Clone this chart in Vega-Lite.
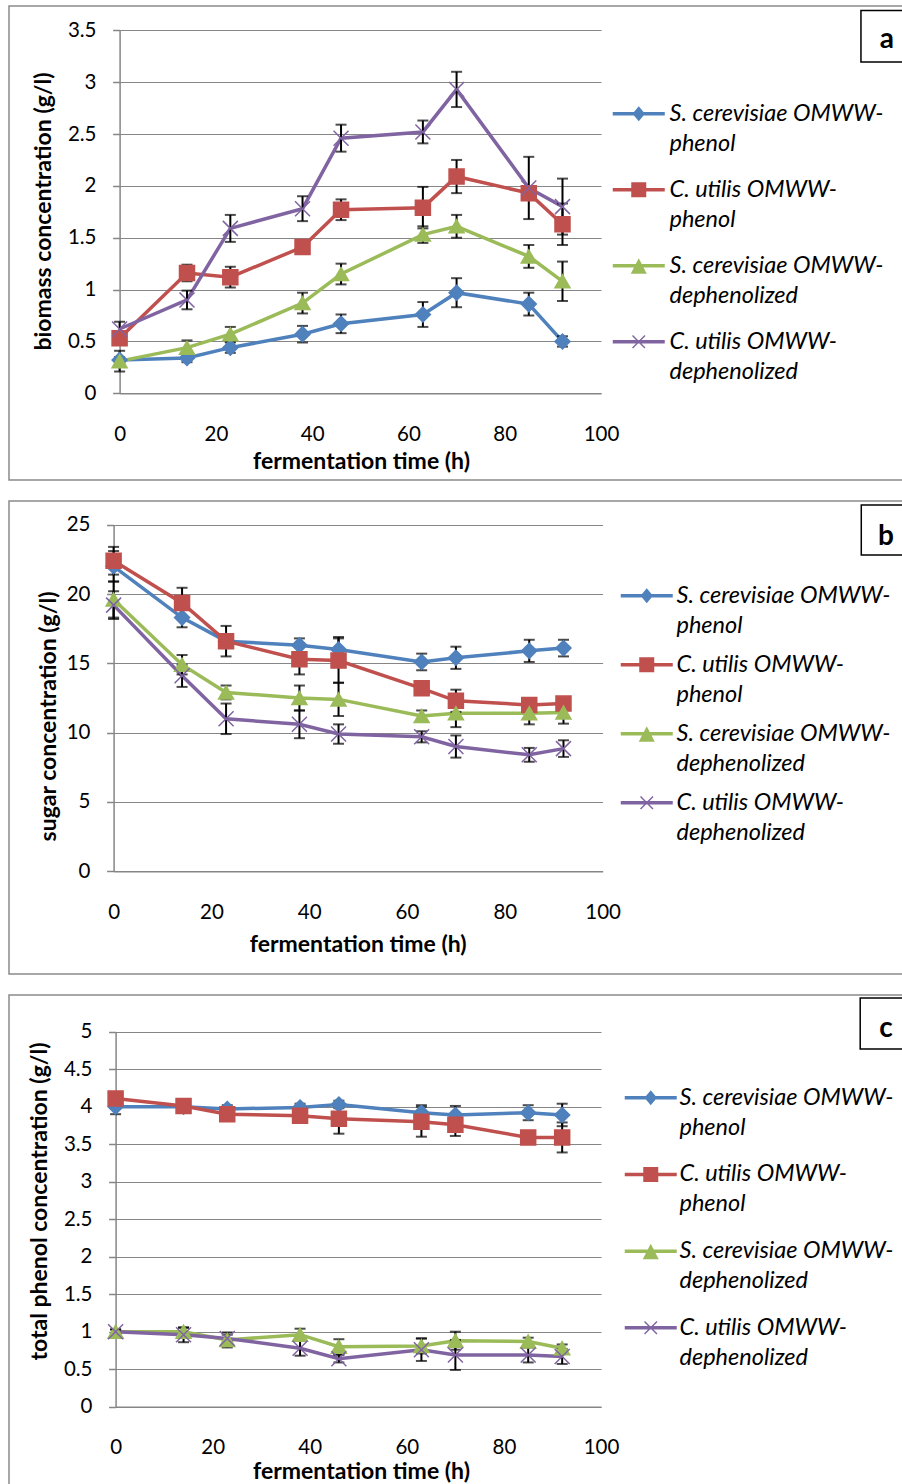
{
 "$schema": "https://vega.github.io/schema/vega-lite/v6.json",
 "background": "white",
 "padding": {"left": 8, "top": 5, "right": 0, "bottom": 0},
 "spacing": 19,
 "datasets": {
  "biomass": [
   {"t":0,"s":"S. cerevisiae OMWW-phenol","v":0.32,"e":0.03},
   {"t":14,"s":"S. cerevisiae OMWW-phenol","v":0.34,"e":0.04},
   {"t":23,"s":"S. cerevisiae OMWW-phenol","v":0.44,"e":0.05},
   {"t":38,"s":"S. cerevisiae OMWW-phenol","v":0.57,"e":0.08},
   {"t":46,"s":"S. cerevisiae OMWW-phenol","v":0.67,"e":0.09},
   {"t":63,"s":"S. cerevisiae OMWW-phenol","v":0.76,"e":0.12},
   {"t":70,"s":"S. cerevisiae OMWW-phenol","v":0.97,"e":0.14},
   {"t":85,"s":"S. cerevisiae OMWW-phenol","v":0.86,"e":0.11},
   {"t":92,"s":"S. cerevisiae OMWW-phenol","v":0.50,"e":0.05},
   {"t":0,"s":"C. utilis OMWW-phenol","v":0.53,"e":0.03},
   {"t":14,"s":"C. utilis OMWW-phenol","v":1.16,"e":0.08},
   {"t":23,"s":"C. utilis OMWW-phenol","v":1.12,"e":0.10},
   {"t":38,"s":"C. utilis OMWW-phenol","v":1.41,"e":0.04},
   {"t":46,"s":"C. utilis OMWW-phenol","v":1.77,"e":0.10},
   {"t":63,"s":"C. utilis OMWW-phenol","v":1.79,"e":0.20},
   {"t":70,"s":"C. utilis OMWW-phenol","v":2.09,"e":0.16},
   {"t":85,"s":"C. utilis OMWW-phenol","v":1.93,"e":0.05},
   {"t":92,"s":"C. utilis OMWW-phenol","v":1.63,"e":0.20},
   {"t":0,"s":"S. cerevisiae OMWW-dephenolized","v":0.31,"e":0.10},
   {"t":14,"s":"S. cerevisiae OMWW-dephenolized","v":0.44,"e":0.07},
   {"t":23,"s":"S. cerevisiae OMWW-dephenolized","v":0.57,"e":0.07},
   {"t":38,"s":"S. cerevisiae OMWW-dephenolized","v":0.87,"e":0.10},
   {"t":46,"s":"S. cerevisiae OMWW-dephenolized","v":1.15,"e":0.10},
   {"t":63,"s":"S. cerevisiae OMWW-dephenolized","v":1.53,"e":0.08},
   {"t":70,"s":"S. cerevisiae OMWW-dephenolized","v":1.61,"e":0.11},
   {"t":85,"s":"S. cerevisiae OMWW-dephenolized","v":1.32,"e":0.11},
   {"t":92,"s":"S. cerevisiae OMWW-dephenolized","v":1.08,"e":0.19},
   {"t":0,"s":"C. utilis OMWW-dephenolized","v":0.62,"e":0.07},
   {"t":14,"s":"C. utilis OMWW-dephenolized","v":0.90,"e":0.09},
   {"t":23,"s":"C. utilis OMWW-dephenolized","v":1.59,"e":0.13},
   {"t":38,"s":"C. utilis OMWW-dephenolized","v":1.78,"e":0.12},
   {"t":46,"s":"C. utilis OMWW-dephenolized","v":2.46,"e":0.13},
   {"t":63,"s":"C. utilis OMWW-dephenolized","v":2.52,"e":0.11},
   {"t":70,"s":"C. utilis OMWW-dephenolized","v":2.93,"e":0.17},
   {"t":85,"s":"C. utilis OMWW-dephenolized","v":1.98,"e":0.30},
   {"t":92,"s":"C. utilis OMWW-dephenolized","v":1.80,"e":0.27}
  ],
  "sugar": [
   {"t":0,"s":"S. cerevisiae OMWW-phenol","v":22.0,"e":1.1},
   {"t":14,"s":"S. cerevisiae OMWW-phenol","v":18.3,"e":0.7},
   {"t":23,"s":"S. cerevisiae OMWW-phenol","v":16.6,"e":0.5},
   {"t":38,"s":"S. cerevisiae OMWW-phenol","v":16.3,"e":0.5},
   {"t":46,"s":"S. cerevisiae OMWW-phenol","v":16.0,"e":0.9},
   {"t":63,"s":"S. cerevisiae OMWW-phenol","v":15.1,"e":0.6},
   {"t":70,"s":"S. cerevisiae OMWW-phenol","v":15.4,"e":0.8},
   {"t":85,"s":"S. cerevisiae OMWW-phenol","v":15.9,"e":0.8},
   {"t":92,"s":"S. cerevisiae OMWW-phenol","v":16.1,"e":0.6},
   {"t":0,"s":"C. utilis OMWW-phenol","v":22.4,"e":1.0},
   {"t":14,"s":"C. utilis OMWW-phenol","v":19.35,"e":1.1},
   {"t":23,"s":"C. utilis OMWW-phenol","v":16.6,"e":1.1},
   {"t":38,"s":"C. utilis OMWW-phenol","v":15.3,"e":1.1},
   {"t":46,"s":"C. utilis OMWW-phenol","v":15.2,"e":1.6},
   {"t":63,"s":"C. utilis OMWW-phenol","v":13.2,"e":0.3},
   {"t":70,"s":"C. utilis OMWW-phenol","v":12.3,"e":0.8},
   {"t":85,"s":"C. utilis OMWW-phenol","v":12.0,"e":0.3},
   {"t":92,"s":"C. utilis OMWW-phenol","v":12.1,"e":0.3},
   {"t":0,"s":"S. cerevisiae OMWW-dephenolized","v":19.6,"e":1.3},
   {"t":14,"s":"S. cerevisiae OMWW-dephenolized","v":14.9,"e":0.7},
   {"t":23,"s":"S. cerevisiae OMWW-dephenolized","v":12.9,"e":0.5},
   {"t":38,"s":"S. cerevisiae OMWW-dephenolized","v":12.5,"e":0.9},
   {"t":46,"s":"S. cerevisiae OMWW-dephenolized","v":12.4,"e":1.2},
   {"t":63,"s":"S. cerevisiae OMWW-dephenolized","v":11.2,"e":0.4},
   {"t":70,"s":"S. cerevisiae OMWW-dephenolized","v":11.4,"e":1.0},
   {"t":85,"s":"S. cerevisiae OMWW-dephenolized","v":11.4,"e":0.8},
   {"t":92,"s":"S. cerevisiae OMWW-dephenolized","v":11.45,"e":0.8},
   {"t":0,"s":"C. utilis OMWW-dephenolized","v":19.2,"e":1.0},
   {"t":14,"s":"C. utilis OMWW-dephenolized","v":14.1,"e":0.8},
   {"t":23,"s":"C. utilis OMWW-dephenolized","v":11.0,"e":1.1},
   {"t":38,"s":"C. utilis OMWW-dephenolized","v":10.6,"e":1.0},
   {"t":46,"s":"C. utilis OMWW-dephenolized","v":9.9,"e":0.7},
   {"t":63,"s":"C. utilis OMWW-dephenolized","v":9.7,"e":0.4},
   {"t":70,"s":"C. utilis OMWW-dephenolized","v":9.0,"e":0.8},
   {"t":85,"s":"C. utilis OMWW-dephenolized","v":8.4,"e":0.5},
   {"t":92,"s":"C. utilis OMWW-dephenolized","v":8.85,"e":0.6}
  ],
  "phenol": [
   {"t":0,"s":"S. cerevisiae OMWW-phenol","v":4.0,"e":0.1},
   {"t":14,"s":"S. cerevisiae OMWW-phenol","v":4.0,"e":0.03},
   {"t":23,"s":"S. cerevisiae OMWW-phenol","v":3.97,"e":0.05},
   {"t":38,"s":"S. cerevisiae OMWW-phenol","v":3.99,"e":0.05},
   {"t":46,"s":"S. cerevisiae OMWW-phenol","v":4.03,"e":0.05},
   {"t":63,"s":"S. cerevisiae OMWW-phenol","v":3.92,"e":0.1},
   {"t":70,"s":"S. cerevisiae OMWW-phenol","v":3.89,"e":0.12},
   {"t":85,"s":"S. cerevisiae OMWW-phenol","v":3.92,"e":0.1},
   {"t":92,"s":"S. cerevisiae OMWW-phenol","v":3.89,"e":0.15},
   {"t":0,"s":"C. utilis OMWW-phenol","v":4.11,"e":0.05},
   {"t":14,"s":"C. utilis OMWW-phenol","v":4.01,"e":0.03},
   {"t":23,"s":"C. utilis OMWW-phenol","v":3.90,"e":0.08},
   {"t":38,"s":"C. utilis OMWW-phenol","v":3.88,"e":0.05},
   {"t":46,"s":"C. utilis OMWW-phenol","v":3.84,"e":0.2},
   {"t":63,"s":"C. utilis OMWW-phenol","v":3.80,"e":0.2},
   {"t":70,"s":"C. utilis OMWW-phenol","v":3.76,"e":0.15},
   {"t":85,"s":"C. utilis OMWW-phenol","v":3.59,"e":0.03},
   {"t":92,"s":"C. utilis OMWW-phenol","v":3.59,"e":0.2},
   {"t":0,"s":"S. cerevisiae OMWW-dephenolized","v":1.0,"e":0.03},
   {"t":14,"s":"S. cerevisiae OMWW-dephenolized","v":1.0,"e":0.05},
   {"t":23,"s":"S. cerevisiae OMWW-dephenolized","v":0.89,"e":0.1},
   {"t":38,"s":"S. cerevisiae OMWW-dephenolized","v":0.96,"e":0.08},
   {"t":46,"s":"S. cerevisiae OMWW-dephenolized","v":0.80,"e":0.1},
   {"t":63,"s":"S. cerevisiae OMWW-dephenolized","v":0.81,"e":0.1},
   {"t":70,"s":"S. cerevisiae OMWW-dephenolized","v":0.88,"e":0.12},
   {"t":85,"s":"S. cerevisiae OMWW-dephenolized","v":0.87,"e":0.05},
   {"t":92,"s":"S. cerevisiae OMWW-dephenolized","v":0.78,"e":0.05},
   {"t":0,"s":"C. utilis OMWW-dephenolized","v":1.0,"e":0.03},
   {"t":14,"s":"C. utilis OMWW-dephenolized","v":0.96,"e":0.1},
   {"t":23,"s":"C. utilis OMWW-dephenolized","v":0.91,"e":0.05},
   {"t":38,"s":"C. utilis OMWW-dephenolized","v":0.78,"e":0.1},
   {"t":46,"s":"C. utilis OMWW-dephenolized","v":0.64,"e":0.05},
   {"t":63,"s":"C. utilis OMWW-dephenolized","v":0.76,"e":0.15},
   {"t":70,"s":"C. utilis OMWW-dephenolized","v":0.69,"e":0.2},
   {"t":85,"s":"C. utilis OMWW-dephenolized","v":0.69,"e":0.1},
   {"t":92,"s":"C. utilis OMWW-dephenolized","v":0.67,"e":0.1}
  ]
 },
 "resolve": {
  "scale": {"color": "independent", "shape": "independent", "stroke": "independent"},
  "legend": {"color": "independent", "shape": "independent", "stroke": "independent"}
 },
 "vconcat": [
  {
   "width": 900, "height": 474,
   "data": {"name": "biomass"},
   "layer": [
    {
     "mark": {"type": "line", "strokeWidth": 3.5},
     "encoding": {
      "x": {"field": "t", "type": "quantitative",
            "scale": {"domain": [0, 100], "range": [110.6, 592], "nice": false, "zero": false},
            "axis": {"title": "fermentation time (h)", "values": [0, 20, 40, 60, 80, 100], "offset": -86.7, "titleX": 352, "titleY": 67.7}},
      "y": {"field": "v", "type": "quantitative",
            "scale": {"domain": [0, 3.5], "range": [387.3, 24.3], "nice": false, "zero": false},
            "axis": {"title": "biomass concentration (g/l)", "values": [0, 0.5, 1, 1.5, 2, 2.5, 3, 3.5], "format": "~g", "offset": -110.6, "titleX": -76.1, "titleY": 205}},
      "color": {"field": "s", "type": "nominal",
                "scale": {"domain": ["S. cerevisiae OMWW-phenol", "C. utilis OMWW-phenol", "S. cerevisiae OMWW-dephenolized", "C. utilis OMWW-dephenolized"], "range": ["#4F81BD", "#C0504D", "#9BBB59", "#8064A2"]},
                "legend": {"title": null, "orient": "none", "legendX": 618, "legendY": 96, "rowPadding": 21, "labelOffset": 19,
                           "labelExpr": "[slice(datum.label, 0, indexof(datum.label, '-') + 1), slice(datum.label, indexof(datum.label, '-') + 1)]",
                           "encode": {
                            "symbols": {"update": {
                             "shape": {"signal": "['M-5.2,-0.35H5.2V0.35H-5.2Z M0,-1.5L1.25,0L0,1.5L-1.25,0Z', 'M-5.2,-0.35H5.2V0.35H-5.2Z M-1.5,-1.5H1.5V1.5H-1.5Z', 'M-5.2,-0.35H5.2V0.35H-5.2Z M0,-1.5L1.6,1.6L-1.6,1.6Z', 'M-5.2,-0.35H5.2V0.35H-5.2Z M-1.35,-1.15L-1.15,-1.35L1.35,1.15L1.15,1.35Z M1.15,-1.35L1.35,-1.15L-1.15,1.35L-1.35,1.15Z'][datum.index]"},
                             "fill": {"signal": "['#4F81BD', '#C0504D', '#9BBB59', '#8064A2'][datum.index]"},
                             "size": {"value": 100}, "strokeWidth": {"value": 0}, "opacity": {"value": 1}}},
                            "labels": {"update": {"lineHeight": {"value": 30}}}
                           }}}
     }
    },
    {
     "mark": {"type": "errorbar", "color": "black", "ticks": {"size": 11, "thickness": 2}, "rule": {"strokeWidth": 2}},
     "encoding": {
      "x": {"field": "t", "type": "quantitative"},
      "y": {"field": "v", "type": "quantitative", "title": "biomass concentration (g/l)"},
      "yError": {"field": "e"}
     }
    },
    {
     "mark": {"type": "point", "filled": true, "opacity": 1, "size": 225, "strokeWidth": 1.5},
     "encoding": {
      "x": {"field": "t", "type": "quantitative"},
      "y": {"field": "v", "type": "quantitative", "title": "biomass concentration (g/l)"},
      "color": {"field": "s", "type": "nominal",
                "scale": {"domain": ["S. cerevisiae OMWW-phenol", "C. utilis OMWW-phenol", "S. cerevisiae OMWW-dephenolized", "C. utilis OMWW-dephenolized"], "range": ["#4F81BD", "#C0504D", "#9BBB59", "#8064A2"]},
                "legend": {"title": null, "orient": "none", "legendX": 618, "legendY": 96, "rowPadding": 21, "labelOffset": 19,
                           "labelExpr": "[slice(datum.label, 0, indexof(datum.label, '-') + 1), slice(datum.label, indexof(datum.label, '-') + 1)]",
                           "encode": {
                            "symbols": {"update": {
                             "shape": {"signal": "['M-5.2,-0.35H5.2V0.35H-5.2Z M0,-1.5L1.25,0L0,1.5L-1.25,0Z', 'M-5.2,-0.35H5.2V0.35H-5.2Z M-1.5,-1.5H1.5V1.5H-1.5Z', 'M-5.2,-0.35H5.2V0.35H-5.2Z M0,-1.5L1.6,1.6L-1.6,1.6Z', 'M-5.2,-0.35H5.2V0.35H-5.2Z M-1.35,-1.15L-1.15,-1.35L1.35,1.15L1.15,1.35Z M1.15,-1.35L1.35,-1.15L-1.15,1.35L-1.35,1.15Z'][datum.index]"},
                             "fill": {"signal": "['#4F81BD', '#C0504D', '#9BBB59', '#8064A2'][datum.index]"},
                             "size": {"value": 100}, "strokeWidth": {"value": 0}, "opacity": {"value": 1}}},
                            "labels": {"update": {"lineHeight": {"value": 30}}}
                           }}},
      "stroke": {"field": "s", "type": "nominal", "sort": null,
                "scale": {"range": ["#4F81BD", "#C0504D", "#9BBB59", "#8064A2"]}, "legend": null},
      "shape": {"field": "s", "type": "nominal", "sort": null,
                "scale": {"range": ["diamond", "square", "triangle-up", "M-1,-1L1,1M1,-1L-1,1"]}, "legend": null}
     }
    },
    {
     "data": {"values": [{}]},
     "mark": {"type": "rect", "fill": "white", "stroke": "black", "strokeWidth": 1.5},
     "encoding": {
      "x": {"datum": 154.0}, "x2": {"datum": 168.6},
      "y": {"datum": 3.691}, "y2": {"datum": 3.194}
     }
    },
    {
     "data": {"values": [{}]},
     "mark": {"type": "text", "text": "a", "font": "Lato", "fontWeight": "bold", "fontSize": 28, "align": "center", "baseline": "middle"},
     "encoding": {
      "x": {"datum": 159.4},
      "y": {"datum": 3.407}
     }
    }
   ]
  },
  {
   "width": 900, "height": 473,
   "data": {"name": "sugar"},
   "layer": [
    {
     "mark": {"type": "line", "strokeWidth": 3.5},
     "encoding": {
      "x": {"field": "t", "type": "quantitative",
            "scale": {"domain": [0, 100], "range": [104.6, 593.6], "nice": false, "zero": false},
            "axis": {"title": "fermentation time (h)", "values": [0, 20, 40, 60, 80, 100], "offset": -102.7, "titleX": 348.7, "titleY": 73.4}},
      "y": {"field": "v", "type": "quantitative",
            "scale": {"domain": [0, 25], "range": [370.3, 23.7], "nice": false, "zero": false},
            "axis": {"title": "sugar concentration (g/l)", "values": [0, 5, 10, 15, 20, 25], "format": "~g", "offset": -104.6, "titleX": -65.6, "titleY": 215}},
      "color": {"field": "s", "type": "nominal",
                "scale": {"domain": ["S. cerevisiae OMWW-phenol", "C. utilis OMWW-phenol", "S. cerevisiae OMWW-dephenolized", "C. utilis OMWW-dephenolized"], "range": ["#4F81BD", "#C0504D", "#9BBB59", "#8064A2"]},
                "legend": {"title": null, "orient": "none", "legendX": 626, "legendY": 83, "rowPadding": 14, "labelOffset": 18,
                           "labelExpr": "[slice(datum.label, 0, indexof(datum.label, '-') + 1), slice(datum.label, indexof(datum.label, '-') + 1)]",
                           "encode": {
                            "symbols": {"update": {
                             "shape": {"signal": "['M-5.2,-0.35H5.2V0.35H-5.2Z M0,-1.5L1.25,0L0,1.5L-1.25,0Z', 'M-5.2,-0.35H5.2V0.35H-5.2Z M-1.5,-1.5H1.5V1.5H-1.5Z', 'M-5.2,-0.35H5.2V0.35H-5.2Z M0,-1.5L1.6,1.6L-1.6,1.6Z', 'M-5.2,-0.35H5.2V0.35H-5.2Z M-1.35,-1.15L-1.15,-1.35L1.35,1.15L1.15,1.35Z M1.15,-1.35L1.35,-1.15L-1.15,1.35L-1.35,1.15Z'][datum.index]"},
                             "fill": {"signal": "['#4F81BD', '#C0504D', '#9BBB59', '#8064A2'][datum.index]"},
                             "size": {"value": 100}, "strokeWidth": {"value": 0}, "opacity": {"value": 1}}},
                            "labels": {"update": {"lineHeight": {"value": 30}}}
                           }}}
     }
    },
    {
     "mark": {"type": "errorbar", "color": "black", "ticks": {"size": 11, "thickness": 2}, "rule": {"strokeWidth": 2}},
     "encoding": {
      "x": {"field": "t", "type": "quantitative"},
      "y": {"field": "v", "type": "quantitative", "title": "sugar concentration (g/l)"},
      "yError": {"field": "e"}
     }
    },
    {
     "mark": {"type": "point", "filled": true, "opacity": 1, "size": 225, "strokeWidth": 1.5},
     "encoding": {
      "x": {"field": "t", "type": "quantitative"},
      "y": {"field": "v", "type": "quantitative", "title": "sugar concentration (g/l)"},
      "color": {"field": "s", "type": "nominal",
                "scale": {"domain": ["S. cerevisiae OMWW-phenol", "C. utilis OMWW-phenol", "S. cerevisiae OMWW-dephenolized", "C. utilis OMWW-dephenolized"], "range": ["#4F81BD", "#C0504D", "#9BBB59", "#8064A2"]},
                "legend": {"title": null, "orient": "none", "legendX": 626, "legendY": 83, "rowPadding": 14, "labelOffset": 18,
                           "labelExpr": "[slice(datum.label, 0, indexof(datum.label, '-') + 1), slice(datum.label, indexof(datum.label, '-') + 1)]",
                           "encode": {
                            "symbols": {"update": {
                             "shape": {"signal": "['M-5.2,-0.35H5.2V0.35H-5.2Z M0,-1.5L1.25,0L0,1.5L-1.25,0Z', 'M-5.2,-0.35H5.2V0.35H-5.2Z M-1.5,-1.5H1.5V1.5H-1.5Z', 'M-5.2,-0.35H5.2V0.35H-5.2Z M0,-1.5L1.6,1.6L-1.6,1.6Z', 'M-5.2,-0.35H5.2V0.35H-5.2Z M-1.35,-1.15L-1.15,-1.35L1.35,1.15L1.15,1.35Z M1.15,-1.35L1.35,-1.15L-1.15,1.35L-1.35,1.15Z'][datum.index]"},
                             "fill": {"signal": "['#4F81BD', '#C0504D', '#9BBB59', '#8064A2'][datum.index]"},
                             "size": {"value": 100}, "strokeWidth": {"value": 0}, "opacity": {"value": 1}}},
                            "labels": {"update": {"lineHeight": {"value": 30}}}
                           }}},
      "stroke": {"field": "s", "type": "nominal", "sort": null,
                "scale": {"range": ["#4F81BD", "#C0504D", "#9BBB59", "#8064A2"]}, "legend": null},
      "shape": {"field": "s", "type": "nominal", "sort": null,
                "scale": {"range": ["diamond", "square", "triangle-up", "M-1,-1L1,1M1,-1L-1,1"]}, "legend": null}
     }
    },
    {
     "data": {"values": [{}]},
     "mark": {"type": "rect", "fill": "white", "stroke": "black", "strokeWidth": 1.5},
     "encoding": {
      "x": {"datum": 152.9}, "x2": {"datum": 167.2},
      "y": {"datum": 26.42}, "y2": {"datum": 22.81}
     }
    },
    {
     "data": {"values": [{}]},
     "mark": {"type": "text", "text": "b", "font": "Lato", "fontWeight": "bold", "fontSize": 28, "align": "center", "baseline": "middle"},
     "encoding": {
      "x": {"datum": 157.96},
      "y": {"datum": 24.14}
     }
    }
   ]
  },
  {
   "width": 900, "height": 500,
   "data": {"name": "phenol"},
   "layer": [
    {
     "mark": {"type": "line", "strokeWidth": 3.5},
     "encoding": {
      "x": {"field": "t", "type": "quantitative",
            "scale": {"domain": [0, 100], "range": [106.6, 592], "nice": false, "zero": false},
            "axis": {"title": "fermentation time (h)", "values": [0, 20, 40, 60, 80, 100], "offset": -88.3, "titleX": 352, "titleY": 64.5}},
      "y": {"field": "v", "type": "quantitative",
            "scale": {"domain": [0, 5], "range": [411.7, 36.7], "nice": false, "zero": false},
            "axis": {"title": "total phenol concentration (g/l)", "values": [0, 0.5, 1, 1.5, 2, 2.5, 3, 3.5, 4, 4.5, 5], "format": "~g", "offset": -106.6, "titleX": -76.1, "titleY": 206}},
      "color": {"field": "s", "type": "nominal",
                "scale": {"domain": ["S. cerevisiae OMWW-phenol", "C. utilis OMWW-phenol", "S. cerevisiae OMWW-dephenolized", "C. utilis OMWW-dephenolized"], "range": ["#4F81BD", "#C0504D", "#9BBB59", "#8064A2"]},
                "legend": {"title": null, "orient": "none", "legendX": 630, "legendY": 91, "rowPadding": 21.7, "labelOffset": 17,
                           "labelExpr": "[slice(datum.label, 0, indexof(datum.label, '-') + 1), slice(datum.label, indexof(datum.label, '-') + 1)]",
                           "encode": {
                            "symbols": {"update": {
                             "shape": {"signal": "['M-5.2,-0.35H5.2V0.35H-5.2Z M0,-1.5L1.25,0L0,1.5L-1.25,0Z', 'M-5.2,-0.35H5.2V0.35H-5.2Z M-1.5,-1.5H1.5V1.5H-1.5Z', 'M-5.2,-0.35H5.2V0.35H-5.2Z M0,-1.5L1.6,1.6L-1.6,1.6Z', 'M-5.2,-0.35H5.2V0.35H-5.2Z M-1.35,-1.15L-1.15,-1.35L1.35,1.15L1.15,1.35Z M1.15,-1.35L1.35,-1.15L-1.15,1.35L-1.35,1.15Z'][datum.index]"},
                             "fill": {"signal": "['#4F81BD', '#C0504D', '#9BBB59', '#8064A2'][datum.index]"},
                             "size": {"value": 100}, "strokeWidth": {"value": 0}, "opacity": {"value": 1}}},
                            "labels": {"update": {"lineHeight": {"value": 30}}}
                           }}}
     }
    },
    {
     "mark": {"type": "errorbar", "color": "black", "ticks": {"size": 11, "thickness": 2}, "rule": {"strokeWidth": 2}},
     "encoding": {
      "x": {"field": "t", "type": "quantitative"},
      "y": {"field": "v", "type": "quantitative", "title": "total phenol concentration (g/l)"},
      "yError": {"field": "e"}
     }
    },
    {
     "mark": {"type": "point", "filled": true, "opacity": 1, "size": 225, "strokeWidth": 1.5},
     "encoding": {
      "x": {"field": "t", "type": "quantitative"},
      "y": {"field": "v", "type": "quantitative", "title": "total phenol concentration (g/l)"},
      "color": {"field": "s", "type": "nominal",
                "scale": {"domain": ["S. cerevisiae OMWW-phenol", "C. utilis OMWW-phenol", "S. cerevisiae OMWW-dephenolized", "C. utilis OMWW-dephenolized"], "range": ["#4F81BD", "#C0504D", "#9BBB59", "#8064A2"]},
                "legend": {"title": null, "orient": "none", "legendX": 630, "legendY": 91, "rowPadding": 21.7, "labelOffset": 17,
                           "labelExpr": "[slice(datum.label, 0, indexof(datum.label, '-') + 1), slice(datum.label, indexof(datum.label, '-') + 1)]",
                           "encode": {
                            "symbols": {"update": {
                             "shape": {"signal": "['M-5.2,-0.35H5.2V0.35H-5.2Z M0,-1.5L1.25,0L0,1.5L-1.25,0Z', 'M-5.2,-0.35H5.2V0.35H-5.2Z M-1.5,-1.5H1.5V1.5H-1.5Z', 'M-5.2,-0.35H5.2V0.35H-5.2Z M0,-1.5L1.6,1.6L-1.6,1.6Z', 'M-5.2,-0.35H5.2V0.35H-5.2Z M-1.35,-1.15L-1.15,-1.35L1.35,1.15L1.15,1.35Z M1.15,-1.35L1.35,-1.15L-1.15,1.35L-1.35,1.15Z'][datum.index]"},
                             "fill": {"signal": "['#4F81BD', '#C0504D', '#9BBB59', '#8064A2'][datum.index]"},
                             "size": {"value": 100}, "strokeWidth": {"value": 0}, "opacity": {"value": 1}}},
                            "labels": {"update": {"lineHeight": {"value": 30}}}
                           }}},
      "stroke": {"field": "s", "type": "nominal", "sort": null,
                "scale": {"range": ["#4F81BD", "#C0504D", "#9BBB59", "#8064A2"]}, "legend": null},
      "shape": {"field": "s", "type": "nominal", "sort": null,
                "scale": {"range": ["diamond", "square", "triangle-up", "M-1,-1L1,1M1,-1L-1,1"]}, "legend": null}
     }
    },
    {
     "data": {"values": [{}]},
     "mark": {"type": "rect", "fill": "white", "stroke": "black", "strokeWidth": 1.5},
     "encoding": {
      "x": {"datum": 153.4}, "x2": {"datum": 168.0},
      "y": {"datum": 5.449}, "y2": {"datum": 4.769}
     }
    },
    {
     "data": {"values": [{}]},
     "mark": {"type": "text", "text": "c", "font": "Lato", "fontWeight": "bold", "fontSize": 28, "align": "center", "baseline": "middle"},
     "encoding": {
      "x": {"datum": 158.7},
      "y": {"datum": 5.036}
     }
    }
   ]
  }
 ],
 "config": {
  "view": {"stroke": "#8a8a8a", "strokeWidth": 1.5},
  "font": "Lato",
  "axis": {
   "labelFont": "Lato", "labelFontSize": 20.5, "labelColor": "#000",
   "titleFont": "Lato", "titleFontSize": 23, "titleFontWeight": "bold", "titleColor": "#000",
   "titleBaseline": "middle",
   "domainColor": "#868686", "domainWidth": 1.5,
   "tickColor": "#868686", "tickWidth": 1.5,
   "gridColor": "#868686", "gridWidth": 1.2,
   "labelFlush": false, "labelOverlap": false
  },
  "axisX": {"grid": false, "ticks": false, "tickSize": 0, "labelPadding": 31, "labelBaseline": "top"},
  "axisY": {"grid": true, "ticks": true, "tickSize": 7, "labelPadding": 16.6},
  "legend": {
   "padding": 0, "symbolSize": 100, "symbolStrokeWidth": 0,
   "labelFont": "Lato", "labelFontStyle": "italic", "labelFontSize": 23.5, "labelColor": "#000",
   "labelLimit": 400
  }
 }
}
